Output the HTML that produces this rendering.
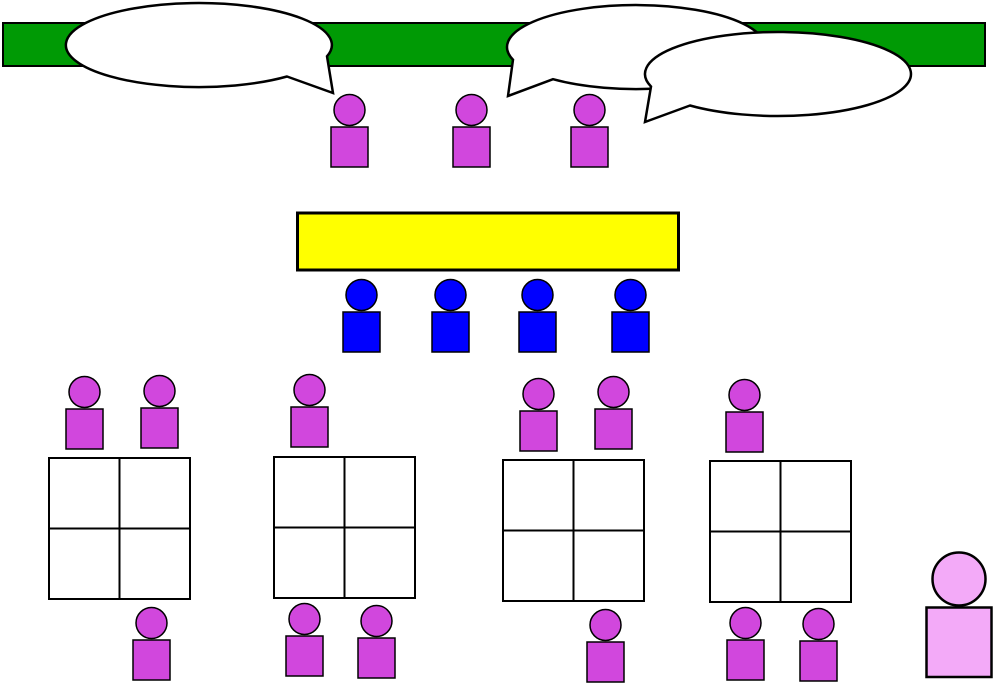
<!DOCTYPE html>
<html><head><meta charset="utf-8"><style>html,body{margin:0;padding:0;background:#fff}svg{display:block}</style></head><body>
<svg width="995" height="683" viewBox="0 0 995 683" xmlns="http://www.w3.org/2000/svg">
<defs>
<g id="p"><circle cx="18.5" cy="-17" r="15.5" fill="#d147dd" stroke="#000" stroke-width="1.5"/><rect x="0" y="0" width="37" height="40" fill="#d147dd" stroke="#000" stroke-width="1.5"/></g>
<g id="b"><circle cx="18.5" cy="-17" r="15.5" fill="#0000ff" stroke="#000" stroke-width="1.5"/><rect x="0" y="0" width="37" height="40" fill="#0000ff" stroke="#000" stroke-width="1.5"/></g>
<g id="t" fill="#fff" stroke="#000" stroke-width="2"><rect x="0" y="0" width="70.5" height="70.5"/><rect x="70.5" y="0" width="70.5" height="70.5"/><rect x="0" y="70.5" width="70.5" height="70.5"/><rect x="70.5" y="70.5" width="70.5" height="70.5"/></g>
</defs>
<rect x="3" y="23" width="982" height="43" fill="#009a05" stroke="#000" stroke-width="2"/>
<g fill="#fff" stroke="#000" stroke-width="2.5">
<path d="M327 56.3 A133 42 0 1 0 287 76.5 L333 93 Z"/>
<path d="M513 59.7 A129 42 0 1 1 553 79.2 L508 96 Z"/>
<path d="M651 86.5 A133 42 0 1 1 690 105.5 L645 122 Z"/>
</g>
<use href="#p" x="331" y="127"/><use href="#p" x="453" y="127"/><use href="#p" x="571" y="127"/>
<rect x="297.5" y="213" width="381" height="57" fill="#ffff00" stroke="#000" stroke-width="3"/>
<use href="#b" x="343" y="312"/><use href="#b" x="432" y="312"/><use href="#b" x="519" y="312"/><use href="#b" x="612" y="312"/>
<use href="#t" x="49" y="458"/><use href="#t" x="274" y="457"/><use href="#t" x="503" y="460"/><use href="#t" x="710" y="461"/>
<use href="#p" x="66" y="409"/><use href="#p" x="141" y="408"/><use href="#p" x="133" y="640"/>
<use href="#p" x="291" y="407"/><use href="#p" x="286" y="636"/><use href="#p" x="358" y="638"/>
<use href="#p" x="520" y="411"/><use href="#p" x="595" y="409"/><use href="#p" x="587" y="642"/>
<use href="#p" x="726" y="412"/><use href="#p" x="727" y="640"/><use href="#p" x="800" y="641"/>
<circle cx="959" cy="579" r="26.5" fill="#f3aaf8" stroke="#000" stroke-width="2.5"/>
<rect x="926.5" y="607.5" width="65" height="69.5" fill="#f3aaf8" stroke="#000" stroke-width="2.5"/>
</svg>
</body></html>
